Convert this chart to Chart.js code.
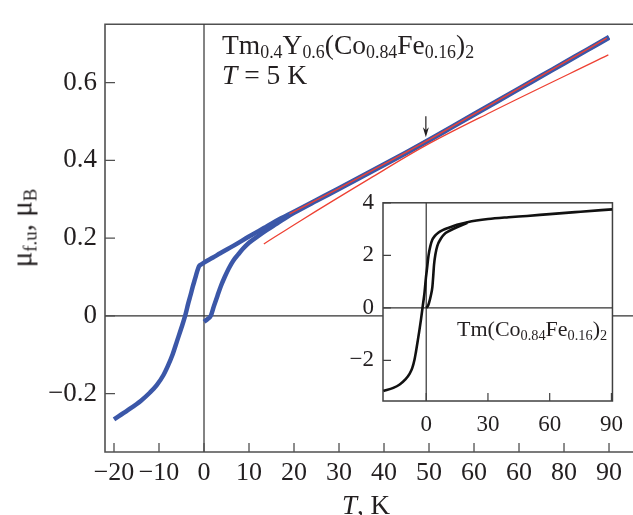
<!DOCTYPE html>
<html>
<head>
<meta charset="utf-8">
<script src="https://cdn.jsdelivr.net/npm/chart.js@4.4.0/dist/chart.umd.min.js"></script>
<style>
html,body{margin:0;padding:0;background:#fff;}
body{width:633px;height:515px;position:relative;overflow:hidden;font-family:"Liberation Serif","Times New Roman",serif;color:#231f20;}
canvas{position:absolute;display:block;}
#mainCanvas{left:0;top:0;}
#insetCanvas{left:330px;top:180px;}
.t{position:absolute;white-space:nowrap;line-height:1;}
.t sub{font-size:0.65em;vertical-align:baseline;position:relative;top:0.25em;}
</style>
</head>
<body>
<canvas id="mainCanvas" width="633" height="515"></canvas>
<canvas id="insetCanvas" width="303" height="260"></canvas>
<div class="t" style="left:222px;top:31px;font-size:27.5px">Tm<sub>0.4</sub>Y<sub>0.6</sub>(Co<sub>0.84</sub>Fe<sub>0.16</sub>)<sub>2</sub></div>
<div class="t" style="left:222px;top:61px;font-size:27.5px"><i>T</i> = 5 K</div>
<div class="t" style="left:457px;top:318px;font-size:22px">Tm(Co<sub>0.84</sub>Fe<sub>0.16</sub>)<sub>2</sub></div>
<div class="t" style="left:366px;top:492px;font-size:27px;transform:translateX(-50%)"><i>T</i>, K</div>
<div class="t" style="left:22px;top:228px;font-size:29px;transform:translate(-50%,-50%) rotate(-90deg)">μ<sub>f.u</sub>, μ<sub>B</sub></div>
<script>
// ---------- Main panel data ----------
// return branch (field swept 90 -> -20), listed with ascending T
const mainOuterT = [-20, -17, -14, -12, -10.5, -9, -8, -7, -6, -5, -4.2, -3.5, -3, -2.5, -2, -1.5, -1.1, -0.5, 0, 2, 3.6, 6.5, 10, 13.3, 16, 20, 25, 30, 35, 40, 45, 50, 55, 60, 65, 70, 75, 80, 85, 90];
const mainOuterM = [-0.266, -0.243, -0.218, -0.197, -0.178, -0.152, -0.128, -0.100, -0.065, -0.030, 0.000, 0.032, 0.053, 0.075, 0.095, 0.115, 0.128, 0.133, 0.137, 0.150, 0.161, 0.180, 0.204, 0.226, 0.244, 0.268, 0.298, 0.328, 0.359, 0.390, 0.421, 0.453, 0.486, 0.519, 0.552, 0.585, 0.618, 0.651, 0.684, 0.717];
// virgin branch (0 -> 90)
const mainVirginT = [0, 0.8, 1.5, 2.2, 3, 3.8, 4.6, 5.5, 6.5, 7.6, 8.7, 10, 12, 14, 16, 18, 20, 25, 30, 35, 40, 45, 50, 55, 60, 65, 70, 75, 80, 85, 90];
const mainVirginM = [-0.015, -0.008, 0.000, 0.025, 0.052, 0.078, 0.100, 0.122, 0.142, 0.158, 0.173, 0.188, 0.205, 0.221, 0.236, 0.251, 0.265, 0.296, 0.326, 0.357, 0.388, 0.419, 0.451, 0.484, 0.517, 0.550, 0.583, 0.616, 0.649, 0.682, 0.715];
// red fit lines
const fitUpperT = [19, 30, 40, 50, 60, 70, 80, 89.5];
const fitUpperM = [0.262, 0.328, 0.390, 0.453, 0.519, 0.585, 0.651, 0.714];
const fitLowerT = [13.3, 21.3, 36.9, 49.1, 63.6, 89.85];
const fitLowerM = [0.185, 0.2435, 0.3535, 0.437, 0.523, 0.671];
// ticks
const mainXTickValues = [-20, -10, 0, 10, 20, 30, 40, 50, 60, 70, 80, 90];
const mainXTickLabels = ['\u221220', '\u221210', '0', '10', '20', '30', '40', '50', '60', '60', '80', '90'];
const mainYTickValues = [-0.2, 0, 0.2, 0.4, 0.6];
const mainYTickLabels = ['\u22120.2', '0', '0.2', '0.4', '0.6'];
// arrow marker (data units)
const arrowT = 49.3, arrowFrom = 0.513, arrowTo = 0.459;

// ---------- Inset data ----------
const insetOuterT = [-20.8, -16, -12.9, -10, -8.1, -6.8, -5.7, -5, -4.1, -3.3, -2.5, -1.7, -0.8, -0.15, 0.4, 1.1, 2, 3, 4, 6, 8, 11, 15, 20, 30, 40, 49, 60, 75, 90.3];
const insetOuterM = [-3.17, -3.05, -2.92, -2.72, -2.52, -2.3, -1.98, -1.68, -1.25, -0.85, -0.42, 0.06, 0.6, 1.14, 1.5, 1.98, 2.35, 2.6, 2.72, 2.87, 2.96, 3.05, 3.16, 3.26, 3.38, 3.45, 3.5, 3.57, 3.66, 3.75];
const insetVirginT = [0, 0.7, 1.4, 2.2, 3.0, 3.4, 3.8, 4.5, 5.4, 7, 8.6, 11, 14.1, 20];
const insetVirginM = [0.0, 0.05, 0.2, 0.45, 0.8, 1.2, 1.64, 2.05, 2.36, 2.62, 2.79, 2.92, 3.04, 3.24];
const insetXTickValues = [0, 30, 60, 90];
const insetXTickLabels = ['0', '30', '60', '90'];
const insetYTickValues = [-2, 0, 2, 4];
const insetYTickLabels = ['\u22122', '0', '2', '4'];

const pts = (xs, ys) => xs.map((v, i) => ({x: v, y: ys[i]}));
const FONT = 'Liberation Serif';
const BLUE = '#3b57a8', RED = '#ee4133', INK = '#231f20';

const mainFrame = {
  id: 'mainFrame',
  beforeDatasetsDraw(chart) {
    const {ctx, chartArea: a, scales: {x, y}} = chart;
    ctx.save();
    ctx.strokeStyle = '#505050'; ctx.lineWidth = 1.6;
    ctx.beginPath();
    ctx.moveTo(a.right, a.top); ctx.lineTo(a.left, a.top); ctx.lineTo(a.left, a.bottom); ctx.lineTo(a.right, a.bottom);
    ctx.stroke();
    const x0 = x.getPixelForValue(0), y0 = y.getPixelForValue(0);
    ctx.strokeStyle = '#333'; ctx.lineWidth = 1.2;
    ctx.beginPath();
    ctx.moveTo(x0, a.top); ctx.lineTo(x0, a.bottom);
    ctx.moveTo(a.left, y0); ctx.lineTo(a.right, y0);
    ctx.stroke();
    ctx.strokeStyle = '#505050'; ctx.lineWidth = 1.3;
    ctx.beginPath();
    x.ticks.forEach(t => { const p = x.getPixelForValue(t.value); ctx.moveTo(p, a.bottom); ctx.lineTo(p, a.bottom - 9); });
    y.ticks.forEach(t => { const p = y.getPixelForValue(t.value); ctx.moveTo(a.left, p); ctx.lineTo(a.left + 10, p); });
    ctx.stroke();
    ctx.restore();
  },
  afterDatasetsDraw(chart) {
    const {ctx, scales: {x, y}} = chart;
    const px = x.getPixelForValue(arrowT), p1 = y.getPixelForValue(arrowFrom), p2 = y.getPixelForValue(arrowTo);
    ctx.save();
    ctx.strokeStyle = INK; ctx.fillStyle = INK; ctx.lineWidth = 1.2;
    ctx.beginPath(); ctx.moveTo(px, p1); ctx.lineTo(px, p2 - 4); ctx.stroke();
    ctx.beginPath(); ctx.moveTo(px - 3, p2 - 10); ctx.lineTo(px, p2); ctx.lineTo(px + 3, p2 - 10); ctx.lineTo(px, p2 - 7); ctx.closePath(); ctx.fill();
    ctx.restore();
  }
};

const insetFrame = {
  id: 'insetFrame',
  beforeDraw(chart) {
    const {ctx, chartArea: a} = chart;
    ctx.save(); ctx.fillStyle = '#fff'; ctx.fillRect(a.left, a.top, a.right - a.left, a.bottom - a.top); ctx.restore();
  },
  beforeDatasetsDraw(chart) {
    const {ctx, chartArea: a, scales: {x, y}} = chart;
    ctx.save();
    const x0 = x.getPixelForValue(0), y0 = y.getPixelForValue(0);
    ctx.strokeStyle = '#333'; ctx.lineWidth = 1.2;
    ctx.beginPath();
    ctx.moveTo(x0, a.top); ctx.lineTo(x0, a.bottom);
    ctx.moveTo(a.left, y0); ctx.lineTo(a.right, y0);
    ctx.stroke();
    ctx.strokeStyle = '#404040'; ctx.lineWidth = 1.5;
    ctx.strokeRect(a.left, a.top, a.right - a.left, a.bottom - a.top);
    ctx.lineWidth = 1.2;
    ctx.beginPath();
    x.ticks.forEach(t => { const p = x.getPixelForValue(t.value); ctx.moveTo(p, a.bottom); ctx.lineTo(p, a.bottom - 8); });
    y.ticks.forEach(t => { const p = y.getPixelForValue(t.value); ctx.moveTo(a.left, p); ctx.lineTo(a.left + 8, p); });
    ctx.stroke();
    ctx.restore();
  }
};

function axis(min, max, values, labels, size, pad, fitProp, fitVal) {
  return {
    type: 'linear', min, max,
    grid: {display: false, drawTicks: false},
    border: {display: false},
    afterBuildTicks: s => { s.ticks = values.map(v => ({value: v})); },
    afterFit: s => { s[fitProp] = fitVal; },
    ticks: {
      autoSkip: false, maxRotation: 0, minRotation: 0, padding: pad, color: INK,
      font: {family: FONT, size},
      callback: (v, i) => labels[i]
    }
  };
}

new Chart(document.getElementById('mainCanvas'), {
  type: 'line',
  data: {
    datasets: [
      {data: pts(fitUpperT, fitUpperM), borderColor: RED, borderWidth: 1.4, pointRadius: 0, cubicInterpolationMode: 'monotone', order: 0},
      {data: pts(fitLowerT, fitLowerM), borderColor: RED, borderWidth: 1.3, pointRadius: 0, cubicInterpolationMode: 'monotone', order: 0},
      {data: pts(mainOuterT, mainOuterM), borderColor: BLUE, borderWidth: 4.5, pointRadius: 0, cubicInterpolationMode: 'monotone', order: 1},
      {data: pts(mainVirginT, mainVirginM), borderColor: BLUE, borderWidth: 4.5, pointRadius: 0, cubicInterpolationMode: 'monotone', order: 1}
    ]
  },
  options: {
    responsive: false, animation: false, devicePixelRatio: 1,
    layout: {padding: {top: 12, right: 0, left: 0, bottom: 0}},
    plugins: {legend: {display: false}, tooltip: {enabled: false}},
    scales: {
      x: axis(-22, 95.33, mainXTickValues, mainXTickLabels, 26, 6, 'height', 63),
      y: axis(-0.35, 0.75, mainYTickValues, mainYTickLabels, 27, 8, 'width', 105)
    }
  },
  plugins: [mainFrame]
});

new Chart(document.getElementById('insetCanvas'), {
  type: 'line',
  data: {
    datasets: [
      {data: pts(insetOuterT, insetOuterM), borderColor: '#111', borderWidth: 2.6, pointRadius: 0, cubicInterpolationMode: 'monotone'},
      {data: pts(insetVirginT, insetVirginM), borderColor: '#111', borderWidth: 2.6, pointRadius: 0, cubicInterpolationMode: 'monotone'}
    ]
  },
  options: {
    responsive: false, animation: false, devicePixelRatio: 1,
    layout: {padding: {top: 12, right: 16, left: 0, bottom: 0}},
    plugins: {legend: {display: false}, tooltip: {enabled: false}},
    scales: {
      x: axis(-21, 90.5, insetXTickValues, insetXTickLabels, 23, 10, 'height', 39),
      y: axis(-3.55, 4, insetYTickValues, insetYTickLabels, 23, 9, 'width', 53)
    }
  },
  plugins: [insetFrame]
});
</script>
</body>
</html>
